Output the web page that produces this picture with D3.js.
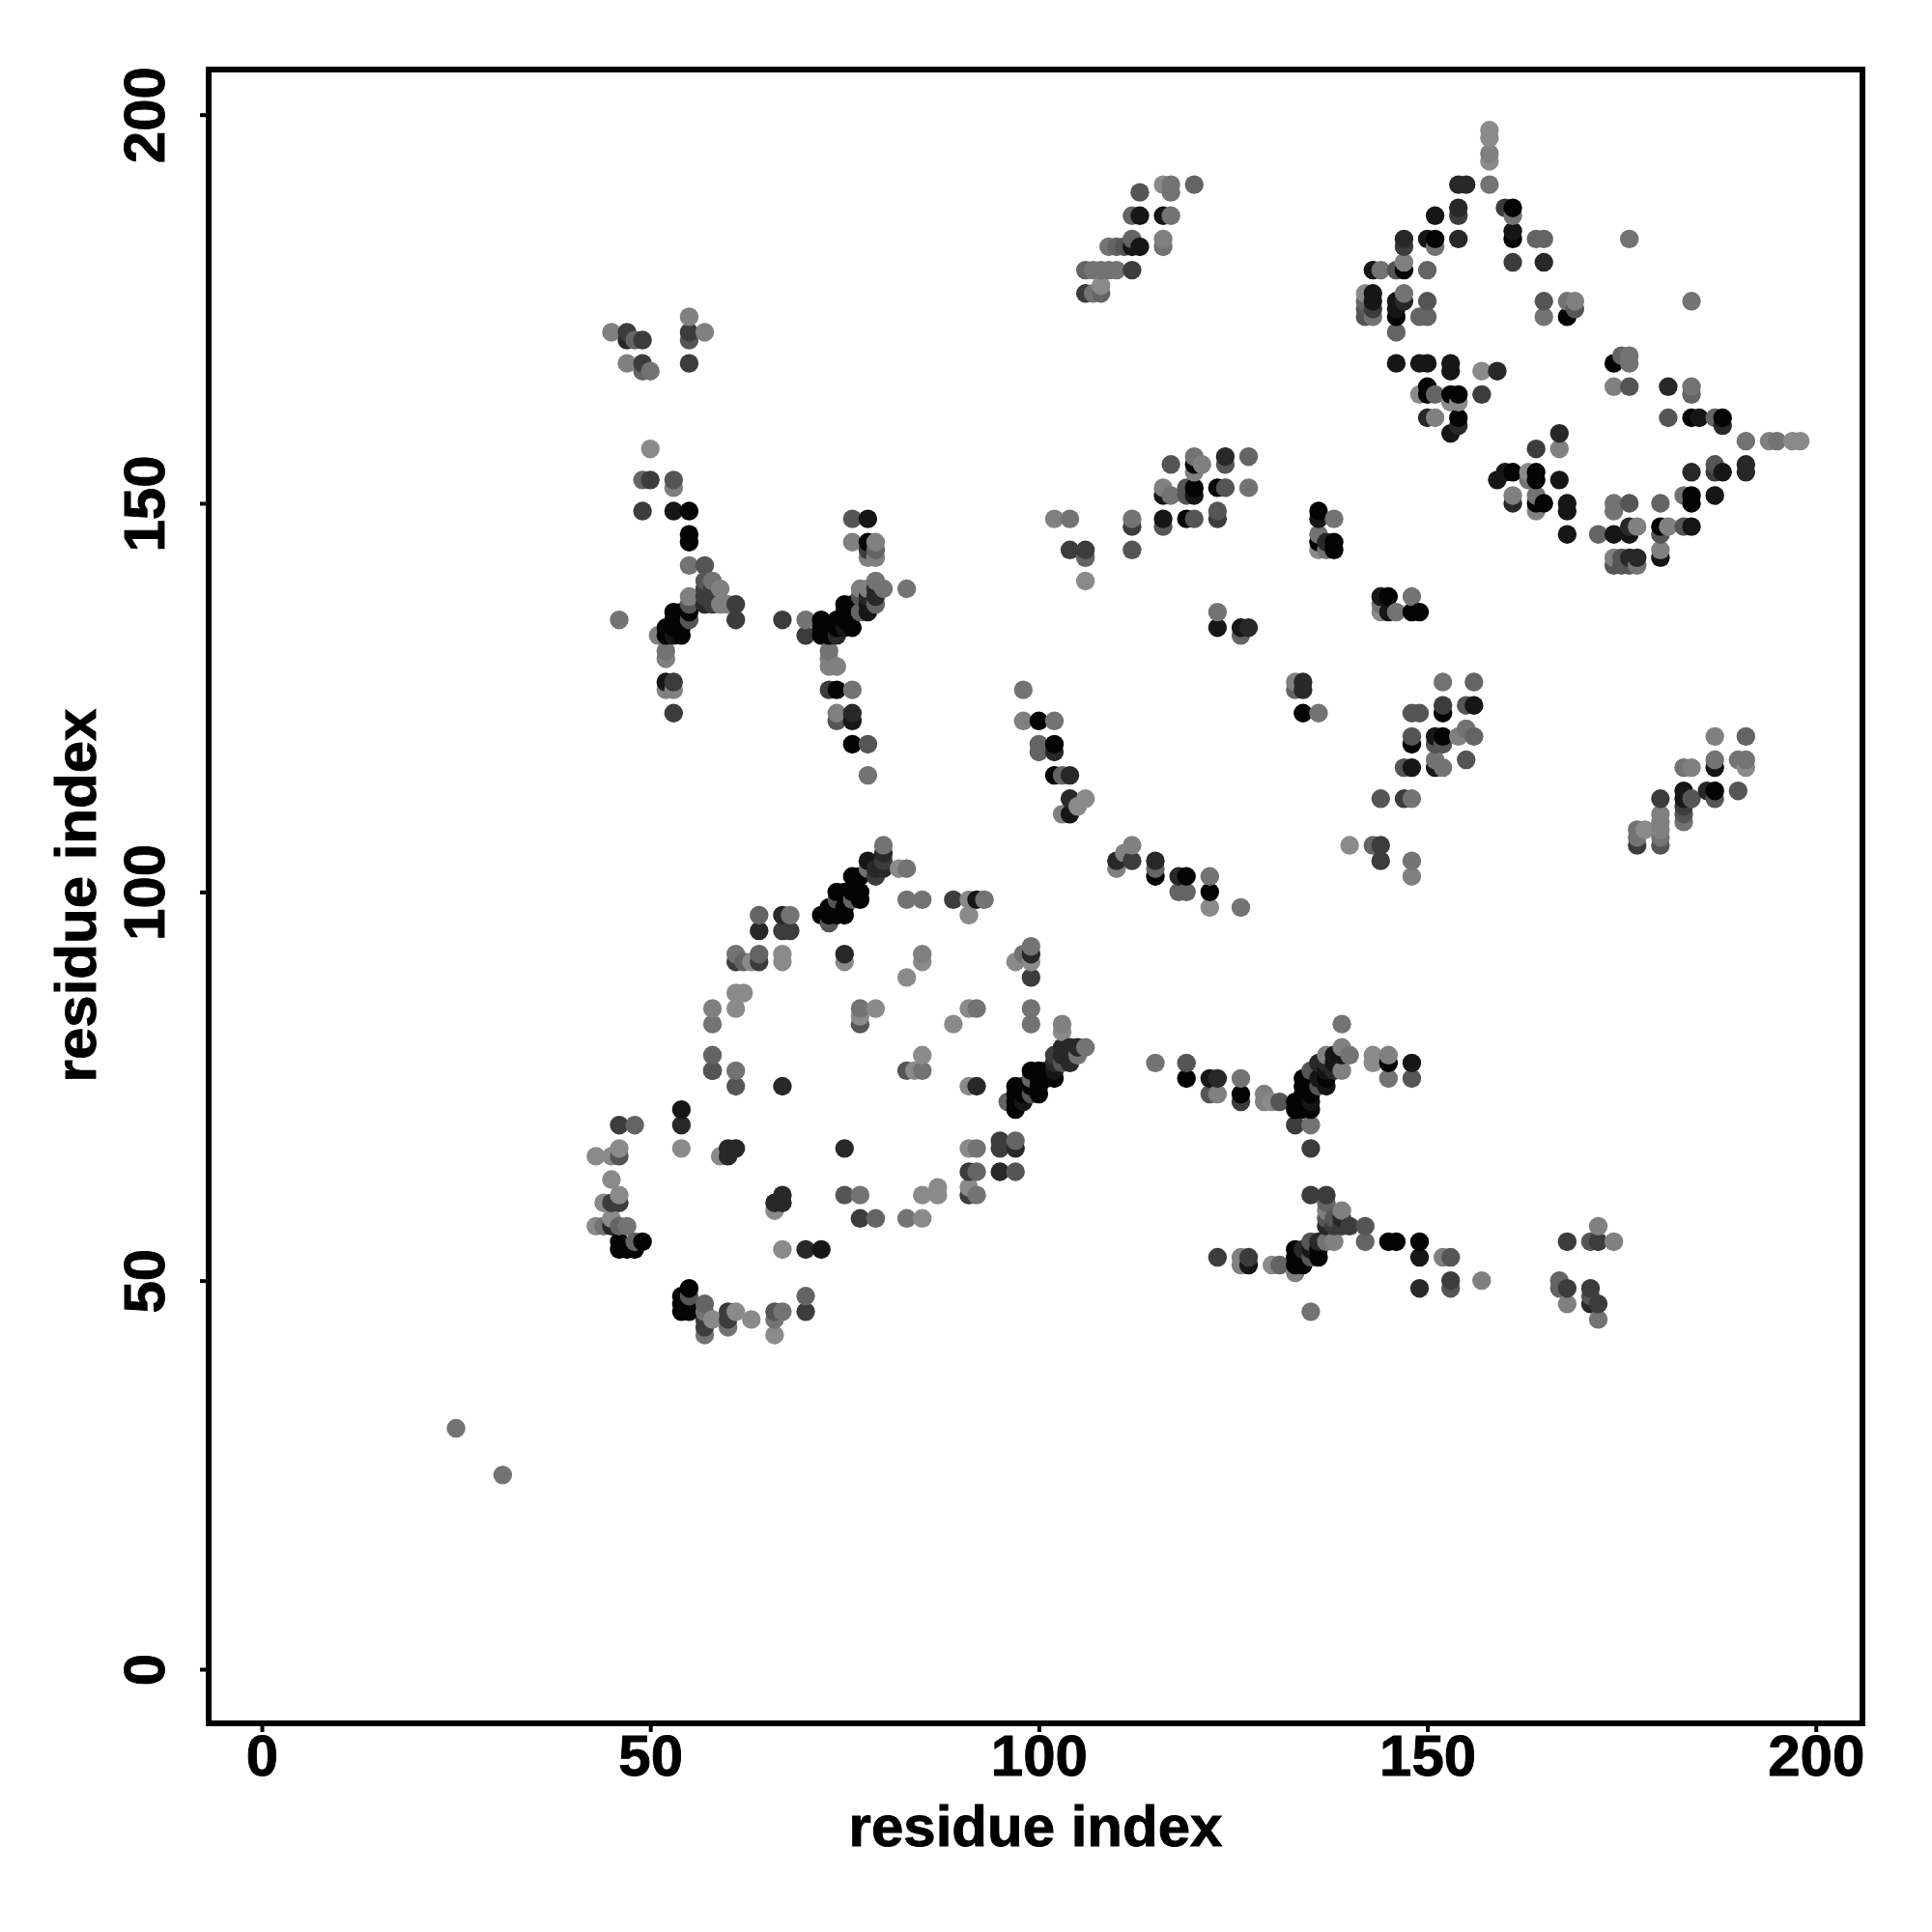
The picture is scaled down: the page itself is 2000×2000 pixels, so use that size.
<!DOCTYPE html>
<html><head><meta charset="utf-8">
<script src="https://cdnjs.cloudflare.com/ajax/libs/d3/7.8.5/d3.min.js"></script>
<style>html,body{margin:0;padding:0;background:#fff}svg{display:block}</style>
</head><body><svg id="c" width="2000" height="2000"></svg>
<script>
// residue pairs [i, j], grouped by contact score
const contacts100 = [[46,55],[46,54],[47,54],[48,54],[49,55],[55,49],[54,48],[54,47],[54,46],[55,46],[55,47],[76,102],[77,102],[74,100],[75,100],[76,100],[77,100],[77,99],[73,98],[74,98],[75,98],[75,97],[74,97],[73,97],[72,97],[102,76],[99,77],[100,77],[101,77],[100,76],[101,76],[97,75],[98,75],[99,75],[100,75],[97,74],[98,74],[100,74],[97,73],[97,72],[161,188],[161,184],[147,180],[151,184],[146,174],[168,174],[174,168],[150,165],[150,164],[153,164],[154,164],[154,161],[184,161],[188,161],[161,154],[164,154],[164,153],[164,150],[165,150],[184,151],[184,150],[180,147],[120,155],[120,152],[119,148],[123,152],[136,149],[136,145],[138,145],[138,144],[145,138],[148,136],[149,136],[100,122],[102,119],[102,115],[115,102],[119,102],[122,100],[134,123],[152,123],[148,119],[152,120],[187,113],[126,74],[134,76],[134,74],[135,74],[133,72],[134,72],[135,72],[133,73],[134,73],[134,75],[135,75],[135,76],[137,76],[145,78],[136,54],[133,54],[133,53],[134,53],[136,53],[133,52],[134,52],[145,55],[146,55],[149,55],[119,76],[78,145],[55,149],[55,146],[55,145],[55,136],[53,136],[54,136],[53,135],[54,135],[52,134],[53,134],[54,134],[52,133],[54,133],[75,137],[76,137],[75,136],[76,136],[75,135],[74,135],[76,134],[74,134],[73,134],[72,135],[72,134],[72,133],[73,133],[74,126],[76,119]];
const contacts090 = [[54,72],[72,54],[78,104],[92,99],[102,77],[98,73],[113,187],[116,187],[112,183],[113,183],[151,187],[161,185],[150,184],[143,180],[143,177],[143,176],[146,176],[146,175],[146,168],[149,168],[150,168],[153,168],[153,167],[153,159],[185,161],[160,154],[159,153],[188,154],[167,153],[168,150],[168,149],[187,151],[168,146],[174,146],[176,146],[184,147],[180,143],[116,151],[116,148],[120,151],[136,148],[144,138],[145,136],[123,134],[126,134],[122,76],[148,78],[138,78],[137,77],[137,75],[136,76],[135,73],[138,79],[139,79],[135,54],[127,52],[149,53],[53,149],[78,148],[78,137],[78,136],[53,133],[75,134],[52,127],[76,122],[148,116],[151,120],[151,116],[156,124],[183,113],[183,112],[187,116],[104,110]];
const contacts080 = [[54,70],[60,67],[61,67],[60,66],[67,75],[92,75],[75,67],[97,67],[95,64],[67,61],[66,60],[67,60],[70,54],[45,57],[80,105],[80,103],[79,103],[64,95],[67,97],[75,92],[99,92],[105,80],[104,80],[103,80],[103,79],[104,79],[104,78],[102,78],[154,191],[155,191],[154,188],[147,184],[165,181],[154,184],[147,176],[150,161],[154,160],[159,167],[181,165],[188,160],[167,159],[191,155],[191,154],[184,154],[161,150],[176,147],[176,143],[177,143],[124,156],[134,127],[134,126],[127,134],[137,145],[102,118],[104,115],[104,112],[110,104],[115,104],[118,102],[123,76],[136,78],[137,78],[138,77],[137,57],[139,58],[136,55],[134,54],[149,49],[171,47],[47,171],[79,139],[79,138],[78,138],[57,137],[74,133],[76,123],[186,113]];
const contacts070 = [[95,68],[95,67],[91,61],[91,64],[77,58],[70,46],[60,46],[60,45],[57,44],[57,45],[45,60],[46,60],[46,70],[80,104],[79,102],[89,99],[67,95],[68,95],[61,91],[64,91],[99,89],[58,77],[102,79],[112,180],[106,177],[147,183],[154,187],[161,181],[143,175],[160,188],[157,164],[164,157],[187,154],[180,112],[183,111],[112,147],[123,148],[104,144],[106,144],[144,106],[144,104],[152,124],[147,112],[133,70],[135,67],[123,53],[127,53],[126,73],[135,61],[137,61],[138,57],[139,57],[140,57],[153,50],[168,55],[172,55],[168,49],[171,49],[172,47],[47,172],[49,171],[49,168],[55,172],[55,168],[50,153],[49,149],[57,139],[58,139],[57,138],[58,138],[58,137],[61,137],[61,135],[67,135],[70,133],[53,127],[53,123],[78,144],[73,126],[177,106],[112,104]];
const contacts060 = [[61,75],[83,77],[46,66],[97,64],[75,61],[55,48],[66,46],[73,96],[74,99],[99,76],[99,74],[103,78],[113,190],[111,183],[150,176],[146,180],[142,175],[142,174],[169,175],[165,176],[176,165],[181,161],[187,155],[183,147],[180,146],[175,143],[174,142],[175,142],[176,142],[176,150],[117,155],[124,155],[116,147],[120,148],[119,152],[119,151],[123,149],[112,144],[124,152],[148,120],[151,119],[152,119],[155,124],[147,116],[155,117],[144,112],[148,123],[149,123],[184,112],[187,112],[190,113],[183,110],[180,106],[131,73],[119,78],[148,76],[135,77],[136,75],[138,58],[137,58],[142,57],[135,55],[135,53],[153,53],[153,49],[171,55],[171,48],[55,171],[53,153],[57,142],[57,140],[55,137],[55,135],[77,138],[76,148],[78,119],[122,74],[58,77],[74,122],[77,83]];
const contacts050 = [[48,70],[97,68],[92,64],[46,57],[62,91],[64,97],[64,92],[76,99],[58,79],[79,58],[106,180],[110,183],[112,187],[112,184],[120,191],[108,177],[164,184],[165,184],[150,180],[146,172],[149,174],[150,174],[142,176],[175,169],[184,164],[151,164],[187,161],[180,150],[172,146],[127,156],[126,133],[133,126],[100,119],[100,118],[103,115],[115,103],[118,100],[119,100],[106,143],[156,127],[156,120],[191,120],[137,60],[142,55],[131,52],[167,50],[167,49],[57,47],[70,48],[49,167],[79,144],[77,136],[79,137],[96,73],[48,171],[48,55],[99,76],[143,106],[49,153]];
const contacts040 = [[61,77],[85,77],[44,57],[47,57],[57,46],[60,44],[67,46],[66,45],[57,43],[77,61],[83,58],[92,67],[92,61],[80,106],[83,103],[83,99],[85,99],[93,99],[68,97],[61,92],[77,85],[92,85],[99,85],[99,83],[58,83],[78,103],[106,80],[105,79],[109,183],[107,180],[108,180],[109,180],[110,180],[107,177],[117,191],[117,190],[116,183],[117,187],[158,191],[161,187],[151,183],[144,180],[143,174],[147,177],[176,184],[184,176],[168,176],[165,174],[176,169],[176,168],[184,165],[191,158],[195,158],[164,151],[163,153],[174,150],[174,149],[177,142],[183,151],[120,156],[127,152],[104,148],[112,148],[117,151],[122,102],[126,98],[138,148],[136,146],[144,137],[146,136],[148,138],[123,136],[136,123],[98,126],[102,122],[137,144],[148,104],[152,127],[151,117],[152,116],[187,117],[183,116],[190,117],[191,117],[148,112],[177,107],[177,108],[180,107],[183,109],[155,121],[115,78],[126,76],[135,70],[140,79],[139,83],[145,76],[137,55],[172,45],[135,46],[46,135],[50,167],[83,139],[79,140],[80,139],[70,135],[52,131],[73,131],[76,126],[78,115],[58,140],[55,142],[25,31],[31,25],[99,93],[98,92]];
const contacts030 = [[85,92],[58,85],[103,83],[116,184],[158,195],[147,181],[169,176],[174,165],[161,151],[164,149],[180,144],[177,147],[181,147],[151,161],[167,157],[194,158],[174,143],[116,152],[120,154],[121,155],[102,148],[103,110],[112,106],[111,105],[110,103],[133,127],[98,122],[154,120],[187,120],[184,116],[180,110],[180,109],[180,108],[148,102],[129,74],[129,73],[126,53],[126,52],[123,74],[137,79],[139,80],[139,77],[145,79],[139,59],[137,59],[138,55],[133,51],[152,53],[157,50],[172,57],[174,55],[168,47],[45,172],[47,168],[55,174],[57,172],[53,152],[59,139],[59,137],[60,137],[55,138],[51,133],[52,130],[52,126],[53,126],[79,145],[78,143],[79,143],[77,139],[78,139],[76,145],[73,130],[73,129],[74,129],[74,123]];
const contacts020 = [[43,66],[45,66],[46,67],[54,67],[45,63],[46,61],[44,60],[45,58],[43,57],[84,77],[91,75],[59,66],[91,67],[87,61],[87,62],[85,61],[85,58],[66,59],[67,54],[58,45],[63,45],[61,46],[66,43],[91,62],[82,103],[91,99],[91,97],[63,91],[67,92],[67,91],[75,91],[85,91],[83,89],[97,91],[99,91],[61,87],[62,87],[61,85],[79,85],[77,84],[91,85],[89,83],[85,79],[103,82],[116,191],[108,178],[158,198],[158,197],[158,194],[142,177],[157,167],[149,164],[197,158],[198,158],[163,154],[154,163],[153,163],[106,140],[106,112],[105,111],[122,98],[140,106],[136,144],[144,136],[191,116],[178,108],[130,73],[143,79],[143,78],[130,52],[50,157]];

const scoreLevels = [1.0, 0.9, 0.8, 0.7, 0.6, 0.5, 0.4, 0.3, 0.2];
const scoreGroups = [contacts100, contacts090, contacts080, contacts070, contacts060, contacts050, contacts040, contacts030, contacts020];
const axisTicks = [0, 50, 100, 150, 200];
const axisTitle = "residue index";

const points = scoreGroups.flatMap((g, k) => g.map(([i, j]) => ({i, j, score: scoreLevels[k]})))
  .sort((a, b) => d3.ascending(a.i, b.i) || d3.ascending(a.j, b.j));

const left = 216, right = 1928, top_ = 72, bottom = 1784;
const x = d3.scaleLinear().domain([-6.84, 206]).range([left, right]);
const y = d3.scaleLinear().domain([-6.96, 205.8]).range([bottom, top_]);
const grey = d3.scaleLinear()
  .domain([0.2, 0.3, 0.4, 0.5, 0.6, 0.7, 0.8, 0.9, 1.0])
  .range([138, 128, 115, 100, 85, 60, 40, 22, 4]);

const svg = d3.select("#c");
svg.append("rect").attr("width", 2000).attr("height", 2000).attr("fill", "#fff");

svg.append("g").selectAll("circle").data(points).join("circle")
  .attr("cx", d => x(d.i)).attr("cy", d => y(d.j)).attr("r", 9.7)
  .attr("fill", d => { const v = Math.round(grey(d.score)); return `rgb(${v},${v},${v})`; });

const font = "'Liberation Sans', Arial, sans-serif";
const applyText = s => s.style("font-family", font).style("font-weight", "700").style("font-size", "60px")
  .attr("fill", "#000").attr("stroke", "#000").attr("stroke-width", 0.9);

const gx = svg.append("g").attr("transform", `translate(0,${bottom})`)
  .call(d3.axisBottom(x).tickValues(axisTicks).tickSizeOuter(0).tickSize(9).tickPadding(9));
const gy = svg.append("g").attr("transform", `translate(${left},0)`)
  .call(d3.axisLeft(y).tickValues(axisTicks).tickSizeOuter(0).tickSize(9));
gx.select(".domain").remove(); gy.select(".domain").remove();
svg.selectAll(".tick line").attr("stroke", "#000").attr("stroke-width", 4);
applyText(svg.selectAll(".tick text"));
gx.selectAll(".tick text").attr("dy", null).attr("y", null)
  .attr("dominant-baseline", "auto").attr("y", 1838 - bottom);
gy.selectAll(".tick text").attr("x", null).attr("dy", null)
  .attr("text-anchor", "middle")
  .attr("transform", `translate(${170 - left},0) rotate(-90)`);

svg.append("rect").attr("x", left).attr("y", top_).attr("width", right - left).attr("height", bottom - top_)
  .attr("fill", "none").attr("stroke", "#000").attr("stroke-width", 6);

applyText(svg.append("text").attr("x", (left + right) / 2).attr("y", 1911).attr("text-anchor", "middle").text(axisTitle));
applyText(svg.append("text").attr("transform", `translate(99,${(top_ + bottom) / 2 - 1}) rotate(-90)`).attr("text-anchor", "middle").text(axisTitle));
</script>
</body></html>
